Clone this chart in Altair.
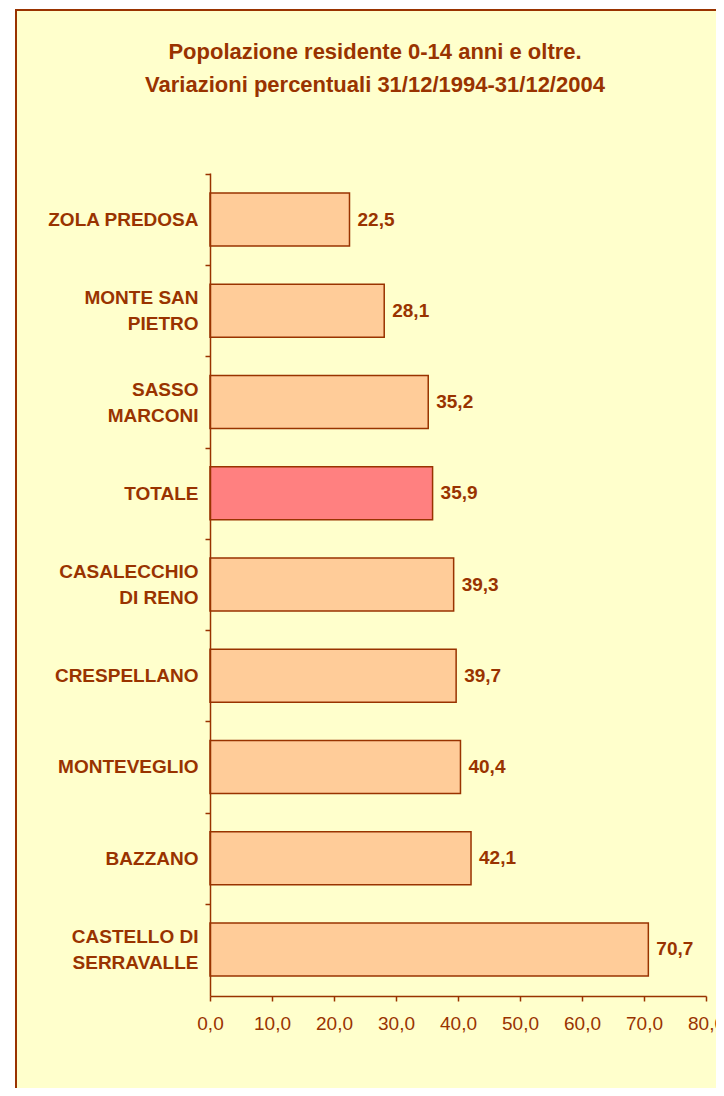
import altair as alt
import pandas as pd

categories = [
    "ZOLA PREDOSA",
    "MONTE SAN\nPIETRO",
    "SASSO\nMARCONI",
    "TOTALE",
    "CASALECCHIO\nDI RENO",
    "CRESPELLANO",
    "MONTEVEGLIO",
    "BAZZANO",
    "CASTELLO DI\nSERRAVALLE",
]
values = [22.5, 28.1, 35.2, 35.9, 39.3, 39.7, 40.4, 42.1, 70.7]
x_ticks = [0, 10, 20, 30, 40, 50, 60, 70, 80]
title_lines = [
    "Popolazione residente 0-14 anni e oltre.",
    "Variazioni percentuali 31/12/1994-31/12/2004",
]

BROWN = "#993300"
FONT = "Liberation Sans"
H = 823
STEP = H / len(categories)

df = pd.DataFrame({"cat": categories, "val": values})
df["lab"] = [f"{v:.1f}".replace(".", ",") for v in values]

frame = alt.Chart(pd.DataFrame({"a": [0]})).mark_rect(
    fill="#FFFFCC", stroke=BROWN, strokeWidth=2
).encode(
    x=alt.value(-194), x2=alt.value(540), y=alt.value(-163), y2=alt.value(940)
)

title = alt.Chart(pd.DataFrame({"a": [0]})).mark_text(
    align="center", baseline="alphabetic", font=FONT, fontSize=22,
    fontWeight="bold", color=BROWN, lineHeight=33
).encode(
    x=alt.value(165), y=alt.value(-114), text=alt.value(title_lines)
)

y_enc = alt.Y(
    "cat:N",
    sort=categories,
    scale=alt.Scale(paddingInner=0.42, paddingOuter=0.22),
    axis=alt.Axis(
        title=None,
        labelExpr="split(datum.label, '\\n')",
        labelFont=FONT,
        labelFontSize=19,
        labelFontWeight="bold",
        labelColor=BROWN,
        labelLineHeight=26,
        labelPadding=7,
        labelLimit=300,
        tickOffset=-STEP / 2,
        labelOffset={
            "condition": {
                "test": "indexof(datum.value, '\\n') >= 0",
                "value": STEP / 2 - 13,
            },
            "value": STEP / 2,
        },
        tickColor=BROWN,
        tickSize=5,
        tickWidth=1.5,
        domainColor=BROWN,
        domainWidth=1.5,
        grid=False,
        zindex=1,
    ),
)
x_enc = alt.X(
    "val:Q",
    scale=alt.Scale(domain=[0, 80], nice=False),
    axis=alt.Axis(
        title=None,
        values=x_ticks,
        labelExpr="replace(format(datum.value, '.1f'), '.', ',')",
        labelFont=FONT,
        labelFontSize=19,
        labelColor=BROWN,
        labelPadding=13,
        labelFlush=False,
        labelOverlap=False,
        tickColor=BROWN,
        tickSize=5,
        tickWidth=1.5,
        domainColor=BROWN,
        domainWidth=1.5,
        grid=False,
        zindex=1,
    ),
)

bars = alt.Chart(df).mark_bar(stroke=BROWN, strokeWidth=1.5).encode(
    y=y_enc,
    x=x_enc,
    color=alt.condition(
        alt.datum.cat == "TOTALE", alt.value("#FF8080"), alt.value("#FFCC99")
    ),
)

texts = alt.Chart(df).mark_text(
    align="left", baseline="middle", dx=8, font=FONT, fontSize=19,
    fontWeight="bold", color=BROWN
).encode(y=alt.Y("cat:N", sort=categories), x="val:Q", text="lab:N")

chart = alt.layer(frame, title, bars, texts).properties(
    width=496,
    height=H,
    autosize=alt.AutoSizeParams(type="none"),
    padding={"left": 202, "top": 165, "right": 10, "bottom": 92},
    background="white",
).configure_view(stroke=None)

chart.save("out.html", embed_options={"renderer": "svg", "actions": False})
